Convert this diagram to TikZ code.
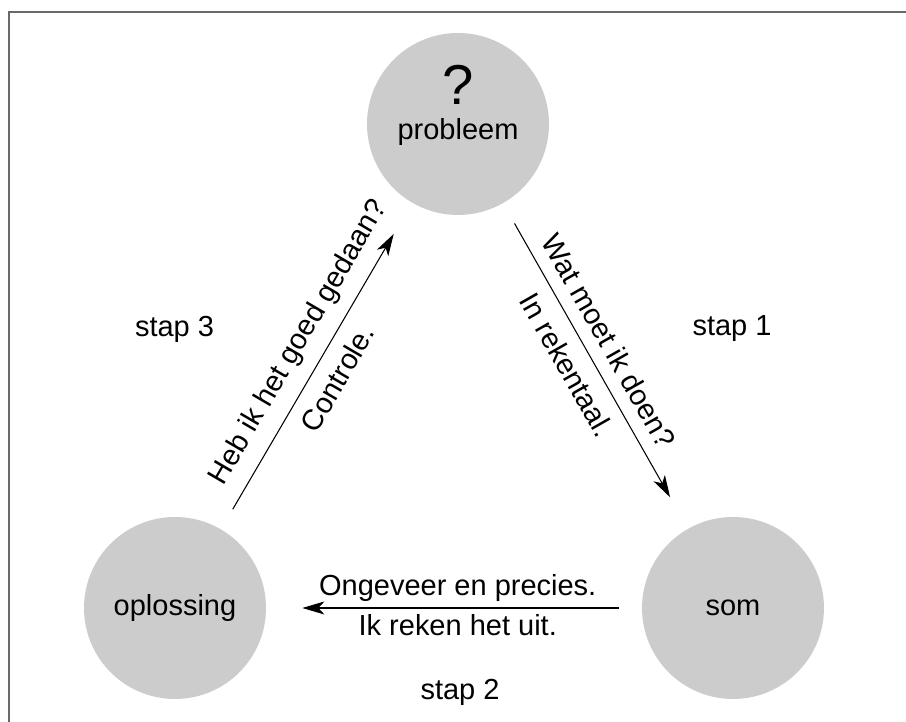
\documentclass[tikz,border=0pt]{standalone}
\usepackage{fontspec}
\setmainfont{Liberation Sans}
\usetikzlibrary{arrows.meta}

\definecolor{kringgrijs}{HTML}{CCCCCC}
\definecolor{randgrijs}{HTML}{696969}

\begin{document}
\begin{tikzpicture}[
        tekst/.style={font=\fontsize{16.5pt}{20pt}\selectfont},
        kring/.style={circle,fill=kringgrijs,minimum size=3.64cm,inner sep=0pt,tekst},
        pijl/.style={-{Stealth[length=0.44cm,width=0.26cm,inset=0.12cm]},line width=0.6pt,
                     shorten <=0.46cm,shorten >=0.72cm}
    ]
                \useasboundingbox (0,0) rectangle (18.12,14.44);

                % kader
                \draw[randgrijs,line width=1.1pt] (18.12,14.2) -- (0.18,14.2) -- (0.18,0);

                \node[kring] (probleem) at (9.16,11.96) {\raisebox{-0.16cm}[\height][\depth]{probleem}};
                \node[kring] (oplossing) at (3.5,2.28) {oplossing};
                \node[kring] (som) at (14.66,2.28) {som};
                \node[font=\fontsize{32pt}{36pt}\selectfont] (vraag) at ([yshift=0.78cm]probleem.center) {?};

                \draw[pijl] (probleem) -- (som)
                    node[pos=0.46,sloped,above=4pt,tekst] (vraag1) {Wat moet ik doen?}
                    node[pos=0.46,sloped,below=4pt,tekst] (antw1) {In rekentaal.};
                \draw[pijl] (som) -- (oplossing)
                    node[pos=0.49,above,tekst] (vraag2) {Ongeveer en precies.}
                    node[pos=0.49,below,tekst] (antw2) {Ik reken het uit.};
                \draw[pijl] (oplossing) -- (probleem)
                    node[pos=0.53,sloped,above=4pt,tekst] (vraag3) {Heb ik het goed gedaan?}
                    node[pos=0.5,sloped,below=4pt,tekst] (antw3) {Controle.};

                \node[tekst] (stap1) at (14.64,7.86) {stap 1};
                \node[tekst] (stap2) at (9.2,0.6) {stap 2};
                \node[tekst] (stap3) at (3.49,7.86) {stap 3};
\end{tikzpicture}
\end{document}
